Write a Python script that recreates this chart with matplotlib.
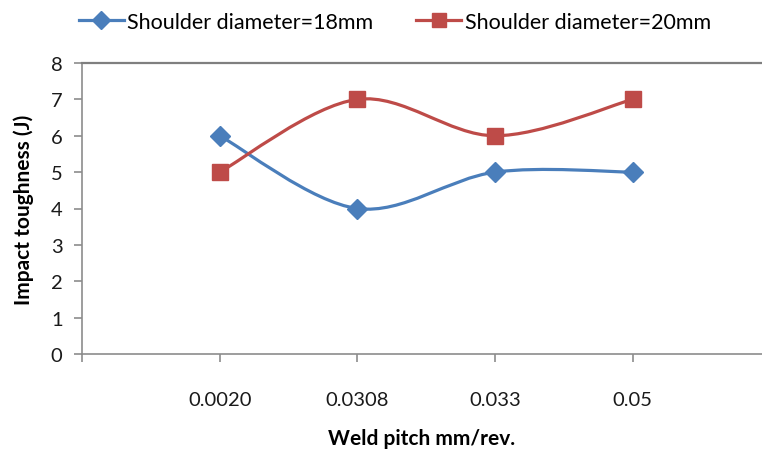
import matplotlib
matplotlib.use("Agg")
import matplotlib.pyplot as plt
import matplotlib.transforms as mtransforms
from matplotlib.path import Path
from matplotlib.patches import PathPatch
from matplotlib.lines import Line2D
import numpy as np

# data
categories = ["0.0020", "0.0308", "0.033", "0.05"]
d18 = [6, 4, 5, 5]
d20 = [5, 7, 6, 7]
labels = ["Shoulder diameter=18mm", "Shoulder diameter=20mm"]

BLUE = "#4a7ebb"
RED = "#be4b48"
plt.rcParams["font.family"] = ["Lato", "DejaVu Sans"]


def smooth_path(xs, ys):
    '''Excel style smoothed line as a bezier path through the points'''
    pts = np.column_stack([xs, ys]).astype(float)
    n = len(pts)
    verts = [pts[0]]
    codes = [Path.MOVETO]
    for i in range(n - 1):
        p0 = pts[i - 1] if i > 0 else pts[i]
        p1, p2 = pts[i], pts[i + 1]
        p3 = pts[i + 2] if i + 2 < n else pts[i + 1]
        c1 = p1 + (p2 - p0) / 6.0
        c2 = p2 - (p3 - p1) / 6.0
        verts += [c1, c2, p2]
        codes += [Path.CURVE4] * 3
    return Path(verts, codes)


fig = plt.figure(figsize=(7.62, 4.52), dpi=100)
ax = fig.add_axes([82 / 762, (452 - 355) / 452, 1 - 82 / 762, (355 - 64) / 452])

x = np.arange(1, len(categories) + 1)
series = [(d18, BLUE, "D", 10.5), (d20, RED, "s", 11)]
for ys, col, mk, ms in series:
    ax.add_patch(PathPatch(smooth_path(x, ys), facecolor="none", edgecolor=col,
                           lw=2.3, zorder=2))
    ax.plot(x, ys, linestyle="none", marker=mk, markersize=ms, color=col, zorder=3)

ax.set_xlim(0, 4.94)
ax.set_ylim(0, 8)
ax.set_yticks(range(0, 9))
ax.set_xticks(range(0, 5))
ax.set_xticklabels([""] + categories)
offset = mtransforms.ScaledTranslation(12 / 100, 0, fig.dpi_scale_trans)
for lab in ax.get_xticklabels():
    lab.set_transform(lab.get_transform() + offset)

ax.spines["right"].set_visible(False)
for s in ["left", "bottom"]:
    ax.spines[s].set_color("#8c8c8c")
    ax.spines[s].set_linewidth(1.2)
ax.spines["top"].set_color("#7f7f7f")
ax.spines["top"].set_linewidth(1.6)
ax.tick_params(axis="both", colors="#8c8c8c", labelcolor="#1a1a1a", labelsize=14.5,
               length=6, width=1.2)
ax.tick_params(axis="x", pad=21)
ax.tick_params(axis="y", pad=8)

ax.set_xlabel("Weld pitch mm/rev.", fontsize=15, fontweight="bold", labelpad=14)
ax.set_ylabel("Impact toughness (J)", fontsize=15, fontweight="bold", labelpad=12)

handles = [Line2D([0], [0], color=BLUE, lw=2.3, marker="D", markersize=9),
           Line2D([0], [0], color=RED, lw=2.3, marker="s", markersize=10)]
fig.legend(handles, labels, loc="upper center", bbox_to_anchor=(0.518, 1.015), ncol=2,
           frameon=False, fontsize=15.5, handlelength=2.1, handletextpad=0.15,
           columnspacing=2.0)

fig.savefig("out.png", dpi=100)
